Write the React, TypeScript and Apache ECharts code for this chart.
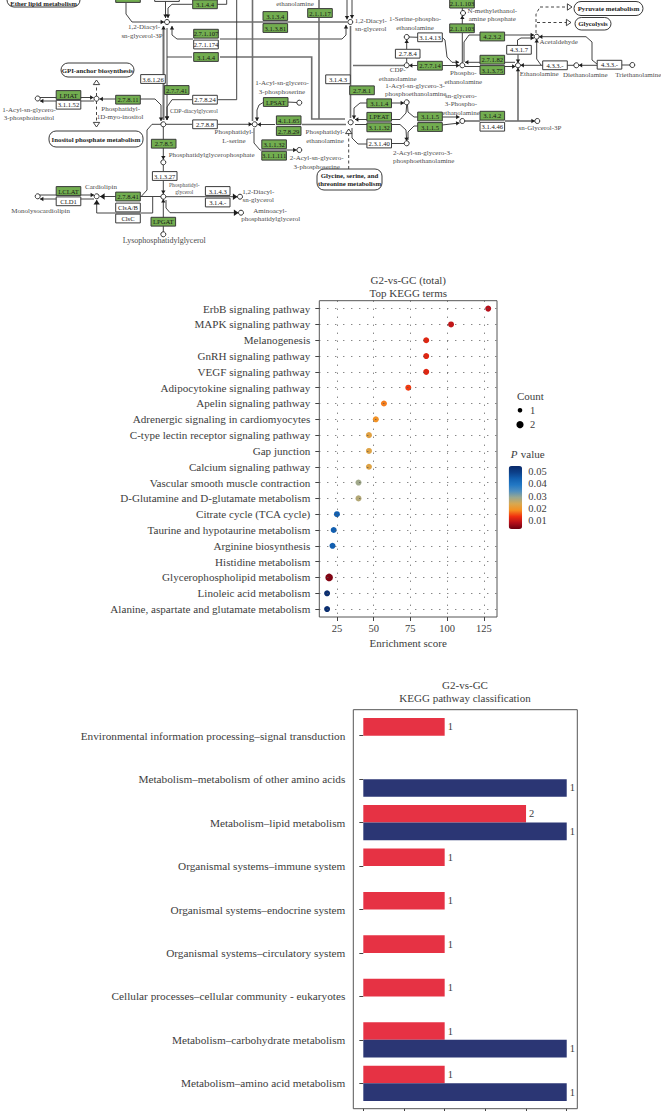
import React, { useEffect, useRef } from "react";
import * as echarts from "echarts";

const SERIF = '"Liberation Serif", serif';
const INK = "#3d3d3d";

/* ---------- dot plot data ---------- */
const termNames = [
  "ErbB signaling pathway", "MAPK signaling pathway", "Melanogenesis", "GnRH signaling pathway",
  "VEGF signaling pathway", "Adipocytokine signaling pathway", "Apelin signaling pathway",
  "Adrenergic signaling in cardiomyocytes", "C-type lectin receptor signaling pathway", "Gap junction",
  "Calcium signaling pathway", "Vascular smooth muscle contraction", "D-Glutamine and D-glutamate metabolism",
  "Citrate cycle (TCA cycle)", "Taurine and hypotaurine metabolism", "Arginine biosynthesis",
  "Histidine metabolism", "Glycerophospholipid metabolism", "Linoleic acid metabolism",
  "Alanine, aspartate and glutamate metabolism",
];
const enrichment = [128, 102.7, 85.8, 85.8, 85.8, 73.6, 57, 51.5, 46.8, 46.8, 46.8, 39.7, 39.7, 25, 22.8, 22, null, 19.7, 18.3, 18.3];
const pValues = [0.009, 0.01, 0.0125, 0.0125, 0.0125, 0.0145, 0.018, 0.0195, 0.0225, 0.023, 0.023, 0.0285, 0.027, 0.044, 0.044, 0.044, null, 0.0055, 0.053, 0.053];
const counts = [1, 1, 1, 1, 1, 1, 1, 1, 1, 1, 1, 1, 1, 1, 1, 1, null, 2, 1, 1];
const scoreTicks = [25, 50, 75, 100, 125];
const pTicks = ["0.05", "0.04", "0.03", "0.02", "0.01"];
const pColors = ["#6b0010", "#b50f1a", "#f0300f", "#f59020", "#d8a850", "#9aa890", "#4f8fbf", "#2278c4", "#125fb0", "#0c3f88", "#0a2a6a"];

/* ---------- bar chart data ---------- */
const classNames = [
  "Environmental information processing\u2013signal transduction",
  "Metabolism\u2013metabolism of other amino acids",
  "Metabolism\u2013lipid metabolism",
  "Organismal systems\u2013immune system",
  "Organismal systems\u2013endocrine system",
  "Organismal systems\u2013circulatory system",
  "Cellular processes\u2013cellular community - eukaryotes",
  "Metabolism\u2013carbohydrate metabolism",
  "Metabolism\u2013amino acid metabolism",
];
const redPercent = [20, null, 40, 20, 20, 20, 20, 20, 20];
const navyPercent = [null, 50, 50, null, null, null, null, 50, 50];
const redCounts = [1, null, 2, 1, 1, 1, 1, 1, 1];
const navyCounts = [null, 1, 1, null, null, null, null, 1, 1];
const percentTicks = [0, 10, 20, 30, 40, 50];

/* ---------- pathway map data: the map's own coordinate system is 661 x 270 ---------- */
type Enzyme = [string, number, number, number];
const enzymes: Enzyme[] = [
  ["", 128, -2, 1], ["", 167, -3, 0], ["3.1.4.4", 205, 4.3, 1], ["3.1.3.4", 275.3, 16, 1], ["3.1.3.81", 275.3, 28, 1],
  ["2.1.1.17", 320, 13, 1], ["2.7.1.107", 206, 33.7, 1], ["2.7.1.174", 206, 44.5, 0], ["3.1.4.4", 206, 57, 1],
  ["3.6.1.26", 153, 79, 0], ["2.7.7.41", 176.7, 90, 1], ["2.7.8.24", 205, 99.7, 0], ["LPSAT", 275.7, 102, 1],
  ["4.1.1.65", 288.7, 120.3, 1], ["2.7.8.29", 288.7, 131, 1], ["2.7.8.8", 205, 124.3, 0], ["2.7.8.11", 128, 99.7, 1],
  ["LPIAT", 68.5, 95, 1], ["3.1.1.52", 68.5, 104.7, 0], ["2.7.8.5", 163.7, 143.7, 1], ["3.1.1.32", 274.1, 144.3, 1],
  ["3.1.1.111", 274.1, 155.7, 1], ["3.1.3.27", 164.7, 176, 0], ["LCLAT", 68.5, 191, 1], ["CLD1", 68.5, 201.3, 0],
  ["2.7.8.41", 128, 196.5, 1], ["ClsA/B", 128, 207.5, 0], ["ClsC", 128, 218.5, 0], ["3.1.4.3", 217.7, 191, 0],
  ["3.1.4.-", 217.7, 202.5, 0], ["LPGAT", 163.3, 221.7, 1], ["2.1.1.103", 462, 3.6, 1], ["2.1.1.103", 462, 28.3, 1],
  ["4.2.3.2", 492.3, 36.5, 1], ["3.1.4.13", 430, 37.3, 0], ["2.7.8.4", 407.7, 53.7, 0], ["4.3.1.7", 519, 49.8, 0],
  ["2.7.1.82", 492.3, 59.7, 1], ["3.1.3.75", 492.3, 70, 1], ["2.7.7.14", 430, 65.7, 1], ["4.3.3.-", 555, 65.3, 0],
  ["4.3.3.-", 609.5, 64.7, 0], ["3.1.4.3", 338, 79.3, 0], ["2.7.8.1", 362, 90.3, 1], ["3.1.1.4", 379.2, 103.3, 1],
  ["LPEAT", 379.2, 116.8, 1], ["3.1.1.32", 379.2, 127.3, 1], ["3.1.1.5", 430, 116.5, 1], ["3.1.1.5", 430, 127, 1],
  ["3.1.4.2", 492.3, 115.7, 1], ["3.1.4.46", 492.3, 126.7, 0], ["2.3.1.40", 379.2, 143.5, 0],
];
const metabolites = [
  [167, 22], [96.5, 98.7], [37.7, 98.5], [163.3, 124.3], [254.7, 124.3], [299.3, 102.7], [299.3, 150], [163.3, 162.3],
  [96.7, 196.3], [37.7, 196.3], [163.3, 196.7], [240, 196.7], [241, 212.7], [163.3, 234.3], [350.3, 22], [463, 13],
  [406.7, 37], [406.7, 65.3], [462.3, 65.3], [518, 65.3], [536.7, 36.7], [576.3, 65.3], [632.3, 65], [350.7, 122.3],
  [406.7, 102.3], [406.7, 143.3], [462.3, 121], [537.3, 121],
];
type Pill = [string[], number, number, number, number, number];
const pills: Pill[] = [
  [["Ether lipid metabolism"], 7, -10, 73, 17, 13],
  [["GPI-anchor biosynthesis"], 61, 63, 73, 14, 7],
  [["Inositol phosphate metabolism"], 49, 131, 94, 16, 8],
  [["Glycine, serine, and", "threonine metabolism"], 317, 169, 65, 21, 10.5],
  [["Pyruvate metabolism"], 574, 1.5, 69, 14, 7],
  [["Glycolysis"], 575, 17.5, 36, 12.5, 6.25],
];
type MapLabel = [string, number, number, number];
const mapLabels: MapLabel[] = [
  ["ethanolamine", 295, 4, 7], ["1,2-Diacyl-", 144, 27, 7], ["sn-glycerol-3P", 142, 36, 7],
  ["1-Acyl-sn-glycero-", 282, 83, 7], ["3-phosphoserine", 282, 92, 7], ["1-Acyl-sn-glycero-", 29, 110, 7],
  ["3-phosphoinositol", 29, 118, 7], ["Phosphatidyl-", 120.7, 109, 7], ["1D-myo-inositol", 120, 117, 7],
  ["CDP-diacylglycerol", 194, 111, 6], ["Phosphatidyl-", 234, 132, 7], ["L-serine", 234, 140.7, 7],
  ["Phosphatidylglycerophosphate", 211.7, 155, 7], ["2-Acyl-sn-glycero-", 316.7, 158, 7], ["3-phosphoserine", 316.7, 166.5, 7],
  ["Phosphatidyl-", 325, 132, 7], ["ethanolamine", 325, 140.7, 7], ["Cardiolipin", 101, 187, 7],
  ["Monolysocardiolipin", 40.7, 211, 7], ["Phosphatidyl-", 184.3, 185.3, 5.5], ["glycerol", 184.3, 192.3, 5.5],
  ["1,2-Diacyl-", 258.3, 191.7, 7], ["sn-glycerol", 258.3, 200, 7], ["Aminoacyl-", 270, 211, 7],
  ["phosphatidylglycerol", 270.7, 219, 7], ["Lysophosphatidylglycerol", 164.3, 240.7, 8],
  ["1,2-Diacyl-", 370.7, 20.7, 7], ["sn-glycerol", 370.7, 29, 7], ["1-Serine-phospho-", 415, 19.3, 7],
  ["ethanolamine", 415, 28, 7], ["N-methylethanol-", 492.3, 11, 7], ["amine phosphate", 492.3, 19.3, 7],
  ["Acetaldehyde", 558.7, 42.3, 7], ["CDP-", 397.7, 70, 7], ["ethanolamine", 397.7, 78.7, 7], ["Phospho-", 463.3, 73.3, 7],
  ["ethanolamine", 463.3, 82, 7], ["Ethanolamine", 539.3, 74, 7], ["Diethanolamine", 585.3, 75.3, 7],
  ["Triethanolamine", 638.3, 75.3, 7], ["1-Acyl-sn-glycero-3-", 415, 85.7, 7], ["phosphoethanolamine", 415.7, 94, 7],
  ["sn-glycero-", 461, 96, 7], ["3-Phospho-", 461, 104.3, 7], ["ethanolamine", 461, 112.7, 7], ["sn-Glycerol-3P", 540, 128.3, 7],
  ["2-Acyl-sn-glycero-3-", 422.7, 152.7, 7], ["phosphoethanolamine", 423.7, 160.7, 7],
];
/* a = arrow at end, n = no arrow, g = gray, G = gray with arrow, b = big arrow, d = dashed, o = dashed with open triangle */
type Edge = [string, number[][]];
const edges: Edge[] = [
  ["a", [[126, 3], [126, 14], [132, 22], [164, 22]]],
  ["g", [[169, 22], [347, 22]]],
  ["a", [[192, 4.3], [172, 4.3], [168, 8], [168, 18]]],
  ["n", [[217, 4.3], [226.7, 4.3], [226.7, -5]]],
  ["a", [[165.5, 0], [165.5, 18]]],
  ["a", [[193, 39], [177, 39], [172, 35], [172, 26]]],
  ["a", [[220, 39], [342, 39], [346, 35], [346, 25]]],
  ["G", [[163.5, 120], [163.5, 26]]],
  ["g", [[163.5, 30], [163.5, 120]]],
  ["a", [[167, 28], [167, 120]]],
  ["n", [[167, 57], [192, 57]]],
  ["g", [[220, 57], [311.7, 57], [311.7, 119], [345, 119]]],
  ["a", [[192, 99.7], [172, 99.7], [167, 107], [167, 120]]],
  ["n", [[218, 99.7], [236.7, 99.7], [236.7, -5]]],
  ["n", [[166, 124.3], [192, 124.3]]],
  ["a", [[218, 124.3], [252, 124.3]]],
  ["a", [[275, 124.5], [257.5, 124.5]]],
  ["g", [[302, 124.5], [346, 124.5]]],
  ["g", [[252.5, -5], [252.5, 121]]],
  ["n", [[287, 102], [297, 102.5]]],
  ["a", [[264, 102], [259, 105], [257, 110], [257, 121]]],
  ["a", [[254, 128], [254, 143], [260, 150], [296.5, 150]]],
  ["a", [[116, 99], [99.5, 99]]],
  ["a", [[140, 99], [155, 99], [161, 105], [161, 121]]],
  ["a", [[40, 97.5], [93.5, 97.5]]],
  ["a", [[94, 101], [40, 101]]],
  ["o", [[96.5, 96], [96.5, 80]]],
  ["o", [[96.5, 101], [96.5, 127]]],
  ["a", [[163.3, 126.5], [163.3, 159.5]]],
  ["n", [[163.3, 165], [163.3, 171]]],
  ["a", [[163.3, 181], [163.3, 194]]],
  ["a", [[163.3, 232], [163.3, 199]]],
  ["n", [[161, 124.3], [152, 124.3], [147, 130], [147, 190], [141, 196.7]]],
  ["b", [[116, 196.5], [100, 196.5]]],
  ["n", [[140, 196.5], [161, 196.5]]],
  ["b", [[152.7, 197], [152.7, 213], [96.7, 213], [96.7, 200]]],
  ["a", [[40, 195], [94, 195]]],
  ["a", [[94, 199], [40, 199]]],
  ["b", [[166, 196.7], [237.5, 196.7]]],
  ["b", [[166, 200], [166, 208], [170, 212.7], [238.5, 212.7]]],
  ["g", [[353, 65.5], [404, 65.5]]],
  ["a", [[417, 65.5], [409, 65.5]]],
  ["a", [[442, 65.5], [459.5, 65.5]]],
  ["a", [[442, 37.3], [445, 40], [447, 57], [452, 62.3], [459, 62.3]]],
  ["n", [[418, 37.3], [409, 37]]],
  ["a", [[406.7, 49], [406.7, 39.5]]],
  ["n", [[406.7, 63], [406.7, 58]]],
  ["n", [[462.3, 63], [462.3, 33]]],
  ["a", [[462.3, 24], [462.3, 15.5]]],
  ["n", [[462.3, 10.5], [462.3, 6]]],
  ["n", [[464, 62], [464, 42], [469, 35], [480, 35]]],
  ["a", [[505, 35], [534, 35]]],
  ["a", [[517.5, 45], [517.5, 40], [521, 38], [534, 38]]],
  ["a", [[518, 54.5], [518, 63]]],
  ["a", [[480, 62.3], [465, 62.3]]],
  ["n", [[505, 62.3], [515, 62.3]]],
  ["n", [[465, 66.5], [480, 66.5]]],
  ["a", [[505, 66.5], [515.5, 66.5]]],
  ["a", [[543, 65.3], [520.5, 65.3]]],
  ["a", [[541, 65], [536.7, 59], [536.7, 39]]],
  ["n", [[567, 65.3], [574, 65.3]]],
  ["a", [[597, 65.3], [578.8, 65.3]]],
  ["n", [[622, 65], [630, 65]]],
  ["a", [[597, 64], [592, 60], [592, 42], [586, 36.7], [539, 36.7]]],
  ["G", [[518, 121], [518, 67.8]]],
  ["g", [[464.8, 121], [480, 121]]],
  ["G", [[505, 121], [534.8, 121]]],
  ["a", [[367, 103], [360, 103], [354, 108], [354, 119]]],
  ["a", [[392, 103], [404, 103]]],
  ["a", [[367, 119.5], [355, 119.5]]],
  ["n", [[392, 119.5], [400, 119.5], [406, 113], [406.7, 105]]],
  ["n", [[355, 124.5], [367, 124.5]]],
  ["a", [[392, 124.5], [400, 124.5], [406, 130], [406.7, 141]]],
  ["n", [[407.5, 105], [408, 112], [414, 117], [418, 117]]],
  ["a", [[442, 117], [459.5, 117]]],
  ["n", [[408, 140], [408, 132], [414, 126], [418, 126]]],
  ["a", [[442, 125], [459.5, 123]]],
  ["n", [[352, 128], [352, 138], [358, 144], [367, 144]]],
  ["n", [[392, 143.5], [404, 143.5]]],
  ["o", [[348.7, 169], [348.7, 129]]],
  ["d", [[536, 33], [536, 14], [540, 7]]],
  ["o", [[540, 7], [572, 7]]],
  ["o", [[537, 22.5], [571, 22.5]]],
  ["a", [[347, -5], [347, 19.5]]],
  ["a", [[352, -5], [352, 18.5]]],
  ["g", [[319, 8], [319, -5]]],
  ["g", [[319, 18], [319, 119]]],
  ["g", [[350.5, 26], [350.5, 118]]],
];

function renderEdge(params: any, api: any) {
  const [kind, pts] = edges[params.dataIndex];
  const p = pts.map((q) => api.coord(q));
  const gray = kind === "g" || kind === "G";
  const dashed = kind === "d" || kind === "o";
  const children: any[] = [
    {
      type: "polyline",
      shape: { points: p },
      style: {
        stroke: gray ? "#6f6f6f" : "#2f2f2f",
        fill: null,
        lineWidth: gray ? 1.6 : 0.9,
        lineDash: dashed ? [3, 2.5] : null,
      },
    },
  ];
  if (kind !== "n" && kind !== "g" && kind !== "d") {
    const a = p[p.length - 2];
    const b = p[p.length - 1];
    const len = Math.hypot(b[0] - a[0], b[1] - a[1]) || 1;
    const ux = (b[0] - a[0]) / len;
    const uy = (b[1] - a[1]) / len;
    const s = kind === "b" || kind === "o" ? 4.6 : 3.4;
    const w = kind === "b" || kind === "o" ? 3.2 : 2.2;
    children.push({
      type: "polygon",
      shape: {
        points: [
          [b[0], b[1]],
          [b[0] - ux * s - uy * w, b[1] - uy * s + ux * w],
          [b[0] - ux * s + uy * w, b[1] - uy * s - ux * w],
        ],
      },
      style: kind === "o" ? { fill: "#fff", stroke: "#2f2f2f", lineWidth: 0.9 } : { fill: "#1d1d1d" },
    });
  }
  return { type: "group", children };
}

function renderEnzyme(params: any, api: any) {
  const [label, , , green] = enzymes[params.dataIndex];
  const c = api.coord([api.value(0), api.value(1)]);
  const w = 24.6;
  const h = 8.8;
  return {
    type: "group",
    children: [
      {
        type: "rect",
        shape: { x: c[0] - w / 2, y: c[1] - h / 2, width: w, height: h },
        style: { fill: green ? "#72ad50" : "#ffffff", stroke: "#3a3a3a", lineWidth: 1 },
      },
      ...(label
        ? [{
            type: "text",
            style: {
              text: label, x: c[0], y: c[1], align: "center", verticalAlign: "middle",
              fontSize: 6.6, fontFamily: SERIF, fill: "#161616",
            },
          }]
        : []),
    ],
  };
}

function renderPill(params: any, api: any) {
  const [lines, x, y, w, h, textOffset] = pills[params.dataIndex];
  const c = api.coord([x, y]);
  return {
    type: "group",
    children: [
      {
        type: "rect",
        shape: { x: c[0], y: c[1], width: w, height: h, r: 7 },
        style: { fill: "#fff", stroke: "#3a3a3a", lineWidth: 1 },
      },
      ...lines.map((t, i) => ({
        type: "text",
        style: {
          text: t, x: c[0] + w / 2, y: c[1] + textOffset + (i - (lines.length - 1) / 2) * 8.6,
          align: "center", verticalAlign: "middle", fontSize: 6.8, fontFamily: SERIF, fontWeight: 700, fill: "#1d1d1d",
        },
      })),
    ],
  };
}

function renderLabel(params: any, api: any) {
  const [text, x, y, size] = mapLabels[params.dataIndex];
  const c = api.coord([x, y]);
  return {
    type: "text",
    style: { text, x: c[0], y: c[1], align: "center", verticalAlign: "middle", fontSize: size, fontFamily: SERIF, fill: "#4c4c4c" },
  };
}

const textAt = (text: string, x: number, y: number, fontSize = 11, extra: any = {}) => ({
  type: "text",
  x,
  y,
  style: { text, fontFamily: SERIF, fontSize, fill: INK, verticalAlign: "middle", ...extra },
});

function buildOption() {
  const dotData = termNames
    .map((name, i) => [enrichment[i], name, pValues[i], counts[i]])
    .filter((d) => d[0] !== null);

  const series: any[] = [
    { type: "custom", xAxisIndex: 0, yAxisIndex: 0, silent: true, clip: false, renderItem: renderEdge, data: edges.map((e) => e[1][0]), z: 2 },
    {
      type: "scatter", xAxisIndex: 0, yAxisIndex: 0, silent: true, symbolSize: 5, data: metabolites,
      itemStyle: { color: "#fff", borderColor: "#2f2f2f", borderWidth: 1, opacity: 1 }, z: 4,
    },
    { type: "custom", xAxisIndex: 0, yAxisIndex: 0, silent: true, clip: false, renderItem: renderEnzyme, data: enzymes.map((e) => [e[1], e[2]]), z: 5 },
    { type: "custom", xAxisIndex: 0, yAxisIndex: 0, silent: true, clip: false, renderItem: renderPill, data: pills.map((e) => [e[1], e[2]]), z: 5 },
    { type: "custom", xAxisIndex: 0, yAxisIndex: 0, silent: true, clip: false, renderItem: renderLabel, data: mapLabels.map((e) => [e[1], e[2]]), z: 6 },
    {
      type: "line", xAxisIndex: 1, yAxisIndex: 1, silent: true, data: [], z: 1,
      markLine: {
        silent: true, symbol: "none", label: { show: false }, animation: false,
        lineStyle: { type: [1, 7], color: "#555", width: 1 },
        data: [...scoreTicks.map((v) => ({ xAxis: v })), ...termNames.map((v) => ({ yAxis: v }))],
      },
    },
    {
      type: "scatter", xAxisIndex: 1, yAxisIndex: 1, silent: true, data: dotData, z: 3,
      encode: { x: 0, y: 1 },
      symbolSize: (v: any[]) => (v[3] === 2 ? 7.6 : 6),
      itemStyle: { opacity: 1 },
    },
    {
      type: "bar", xAxisIndex: 2, yAxisIndex: 2, silent: true, data: redPercent, barWidth: 17.6, barGap: 0,
      itemStyle: { color: "#e63244" },
      label: {
        show: true, position: "right", distance: 3, fontFamily: SERIF, fontSize: 10.5, color: INK,
        formatter: (p: any) => `${redCounts[p.dataIndex]}`,
      },
    },
    {
      type: "bar", xAxisIndex: 2, yAxisIndex: 2, silent: true, data: navyPercent, barWidth: 17.6, barGap: 0,
      itemStyle: { color: "#2b3674" },
      label: {
        show: true, position: "right", distance: 3, fontFamily: SERIF, fontSize: 10.5, color: INK,
        formatter: (p: any) => `${navyCounts[p.dataIndex]}`,
      },
    },
  ];

  return {
    animation: false,
    backgroundColor: "#fff",
    title: [
      {
        text: "G2-vs-GC (total)\nTop KEGG terms", left: 408.3, top: 273.5, textAlign: "center", padding: 0,
        textStyle: { fontFamily: SERIF, fontSize: 11, fontWeight: 400, color: INK, lineHeight: 13.3 },
      },
      {
        text: "G2-vs-GC\nKEGG pathway classification", left: 465, top: 678.5, textAlign: "center", padding: 0,
        textStyle: { fontFamily: SERIF, fontSize: 11, fontWeight: 400, color: INK, lineHeight: 13.3 },
      },
    ],
    grid: [
      { left: 0, top: 0, width: 661, height: 270, show: false },
      { left: 319.3, top: 300.7, width: 177.7, height: 316.3, show: true, borderColor: "#555", borderWidth: 1, backgroundColor: "transparent" },
      { left: 353.3, top: 714, width: 224, height: 391, show: false },
    ],
    xAxis: [
      { gridIndex: 0, type: "value", min: 0, max: 661, show: false },
      {
        gridIndex: 1, type: "value", min: 13, max: 134, name: "Enrichment score", nameLocation: "middle", nameGap: 20,
        nameTextStyle: { fontFamily: SERIF, fontSize: 11, color: INK },
        axisLine: { show: false }, splitLine: { show: false },
        axisTick: { show: true, length: 4, customValues: scoreTicks, lineStyle: { color: "#444" } },
        axisLabel: { customValues: scoreTicks, fontFamily: SERIF, fontSize: 10.5, color: INK, margin: 6 },
      },
      {
        gridIndex: 2, type: "value", min: -2.46, max: 52.6, position: "bottom", offset: 3.7,
        axisLine: { show: false }, splitLine: { show: false },
        axisTick: { show: true, length: 4, customValues: percentTicks, lineStyle: { color: "#444" } },
        axisLabel: { show: false },
      },
    ],
    yAxis: [
      { gridIndex: 0, type: "value", min: 0, max: 270, inverse: true, show: false },
      {
        gridIndex: 1, type: "category", data: termNames, inverse: true,
        axisLine: { show: false }, splitLine: { show: false },
        axisTick: { show: true, length: 4, alignWithLabel: true, lineStyle: { color: "#444" } },
        axisLabel: { fontFamily: SERIF, fontSize: 11.1, color: INK, margin: 9, interval: 0 },
      },
      {
        gridIndex: 2, type: "category", data: classNames, inverse: true,
        axisLine: { show: false }, splitLine: { show: false },
        axisTick: { show: true, length: 4, alignWithLabel: true, lineStyle: { color: "#444" } },
        axisLabel: { fontFamily: SERIF, fontSize: 11.25, color: INK, margin: 8, interval: 0 },
      },
    ],
    visualMap: [
      {
        type: "continuous", seriesIndex: 6, dimension: 2, min: 0.004, max: 0.054, show: true, calculable: false,
        left: 508.7, top: 466, itemWidth: 13.4, itemHeight: 63, padding: 0, text: null, showLabel: false,
        realtime: false, hoverLink: false, inRange: { color: pColors },
        textStyle: { color: "rgba(0,0,0,0)", fontSize: 1 },
      },
    ],
    graphic: [
      textAt("Count", 517, 396, 11),
      { type: "circle", shape: { cx: 520, cy: 410.3, r: 2.3 }, style: { fill: "#000" } },
      textAt("1", 530, 410.3, 10.5),
      { type: "circle", shape: { cx: 520, cy: 424.7, r: 3.6 }, style: { fill: "#000" } },
      textAt("2", 530, 424.7, 10.5),
      {
        type: "text", x: 510.7, y: 454.3,
        style: {
          rich: {
            i: { fontFamily: SERIF, fontSize: 11, fontStyle: "italic", fill: INK },
            r: { fontFamily: SERIF, fontSize: 11, fill: INK },
          },
          text: "{i|P} {r|value}", verticalAlign: "middle",
        },
      },
      ...pTicks.map((t, i) => textAt(t, 528.3, 471.5 + i * 12.3, 10.5)),
      { type: "rect", shape: { x: 353.3, y: 709.7, width: 224, height: 399 }, style: { fill: "none", stroke: "#555", lineWidth: 1 }, z: 10 },
    ],
    series,
  };
}

export default function App() {
  const ref = useRef<HTMLDivElement>(null);
  useEffect(() => {
    const chart = echarts.init(ref.current!, undefined, { renderer: "svg" });
    chart.setOption(buildOption() as any);
    return () => chart.dispose();
  }, []);
  return <div ref={ref} style={{ position: "absolute", left: 0, top: 0, width: 661, height: 1111 }} />;
}
